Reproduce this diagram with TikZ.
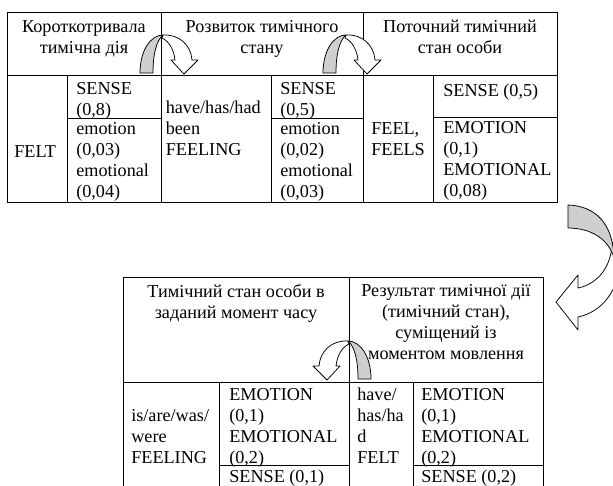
\documentclass[tikz,border=0pt]{standalone}
\usepackage{fontspec}
\setmainfont{Liberation Serif}
\definecolor{arrowgrey}{HTML}{CFCFCF}
\begin{document}
\begin{tikzpicture}[x=0.66pt,y=-0.66pt,
  rule/.style={line width=0.65pt, draw=black},
  cell/.style={anchor=north west, inner sep=0pt, align=left,
    font=\fontsize{12}{13.8}\selectfont, execute at begin node=\strut},
  head/.style={anchor=north, inner sep=0pt, align=center,
    font=\fontsize{12}{13.8}\selectfont, execute at begin node=\strut},
  arrowline/.style={draw=black, line width=0.5pt, line join=round},
  greyface/.style={arrowline, fill=arrowgrey},
  whiteface/.style={arrowline, fill=white},
  bentarrow/.pic={
    \path[whiteface] (-1,3) .. controls (6,6) and (11,15) .. (12,25)
      -- (8,25) -- (21,39) -- (35,25) -- (29,25)
      .. controls (28,10) and (16,-1) .. (0,0) -- cycle;
    \path[greyface] (-23,38) .. controls (-23,15) and (-12,0) .. (0,0)
      .. controls (-7,6) and (-10,20) .. (-10,38) -- cycle;
  }]
\useasboundingbox (0,0) rectangle (613,485);

% ---------- top table ----------
\draw[rule] (7,12) rectangle (557,202);
\draw[rule] (7,75) -- (557,75);
\draw[rule] (161,12) -- (161,202);
\draw[rule] (363,12) -- (363,202);
\draw[rule] (67,75) -- (67,202);
\draw[rule] (271,75) -- (271,202);
\draw[rule] (433,75) -- (433,202);
\draw[rule] (67,118) -- (161,118);
\draw[rule] (271,118) -- (363,118);
\draw[rule] (433,117) -- (557,117);

\node[head] (h1) at (84,20) {Короткотривала\\тимічна дія};
\node[head] (h2) at (262,20) {Розвиток тимічного\\стану};
\node[head] (h3) at (460,20) {Поточний тимічний\\стан особи};

\node[cell] (felt) at (14,143) {FELT};
\node[cell] (a1) at (76,82) {SENSE\\(0,8)};
\node[cell] (a2) at (76,122) {emotion\\(0,03)\\emotional\\(0,04)};
\node[cell] (hb) at (165.5,101) {have/has/had\\been\\FEELING};
\node[cell] (b1) at (280,82) {SENSE\\(0,5)};
\node[cell] (b2) at (280,122) {emotion\\(0,02)\\emotional\\(0,03)};
\node[cell] (fe) at (371,122) {FEEL,\\FEELS};
\node[cell] (c1) at (443,82) {SENSE (0,5)};
\node[cell] (c2) at (443,121) {EMOTION\\(0,1)\\EMOTIONAL\\(0,08)};

% ---------- bottom table ----------
\draw[rule] (123,495) -- (123,277) -- (543,277) -- (543,495);
\draw[rule] (349,277) -- (349,495);
\draw[rule] (123,382) -- (543,382);
\draw[rule] (219,382) -- (219,495);
\draw[rule] (413,382) -- (413,495);
\draw[rule] (219,465) -- (349,465);
\draw[rule] (413,465) -- (543,465);

\node[head] (h4) at (236,284) {Тимічний стан особи в\\заданий момент часу};
\node[head] (h5) at (446,284) {Результат тимічної дії\\(тимічний стан),\\суміщений із\\моментом мовлення};

\node[cell] (iw) at (131,409) {is/are/was/\\were\\FEELING};
\node[cell] (d1) at (229,388) {EMOTION\\(0,1)\\EMOTIONAL\\(0,2)};
\node[cell] (d2) at (229,468) {SENSE (0,1)};
\node[cell] (hf) at (357,388) {have/\\has/ha\\d\\FELT};
\node[cell] (e1) at (421,388) {EMOTION\\(0,1)\\EMOTIONAL\\(0,2)};
\node[cell] (e2) at (421,468) {SENSE (0,2)};

% ---------- curved block arrows ----------
\pic at (163,35) {bentarrow};
\pic at (346,35) {bentarrow};
\pic[xscale=-1] at (348,341) {bentarrow};

% big arrow on the right
\path[whiteface] (612,242) .. controls (612,266) and (598,284) .. (578,288)
  -- (578,275) -- (556,302) -- (578,330) -- (578,317)
  .. controls (602,312) and (620,290) .. (620,258) -- cycle;
\path[greyface] (568,205) .. controls (596,206) and (613,224) .. (614,258)
  .. controls (609,240) and (592,228) .. (568,228) -- cycle;
\end{tikzpicture}
\end{document}
